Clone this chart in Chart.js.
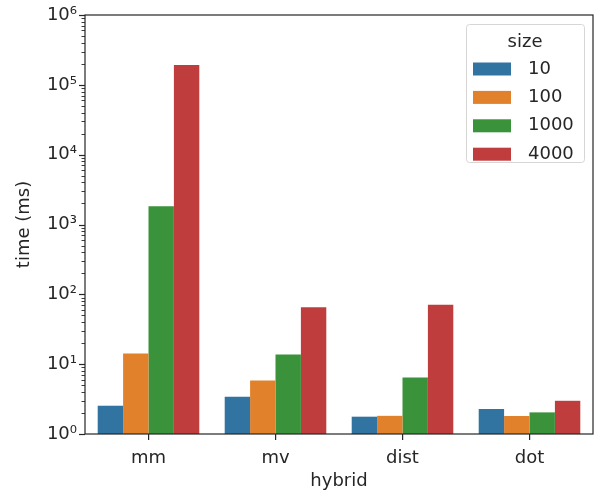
<!DOCTYPE html>
<html>
<head>
<meta charset="utf-8">
<script src="https://cdn.jsdelivr.net/npm/chart.js@4.4.1/dist/chart.umd.min.js"></script>
<style>
  html, body { margin: 0; padding: 0; background: #fff; }
  #wrap { width: 595px; height: 493px; }
</style>
</head>
<body>
<div id="wrap"><canvas id="myChart" width="595" height="493"></canvas></div>
<script>
var categories = ['mm', 'mv', 'dist', 'dot'];
var sizes = ['10', '100', '1000', '4000'];
var time10 = [2.54, 3.41, 1.77, 2.28];
var time100 = [14.2, 5.85, 1.82, 1.81];
var time1000 = [1820, 13.7, 6.45, 2.04];
var time4000 = [193000, 65.2, 71.2, 2.99];
var yTickLabels = ['10⁰', '10¹', '10²', '10³', '10⁴', '10⁵', '10⁶'];
var colors = ['#3274a1', '#e1812c', '#3a923a', '#c03d3e'];

Chart.defaults.font.family = "'DejaVu Sans', sans-serif";
Chart.defaults.font.size = 18;
Chart.defaults.color = '#262626';

function majorLabel(v) {
  var e = Math.log10(v);
  var r = Math.round(e);
  if (Math.abs(e - r) < 1e-9 && r >= 0 && r < yTickLabels.length) return yTickLabels[r];
  return '';
}

// axes box, y tick marks (major + minor) and the legend inside the plot
var framePlugin = {
  id: 'frame',
  afterDraw: function(chart) {
    var ctx = chart.ctx, a = chart.chartArea, ys = chart.scales.y;
    ctx.save();
    ctx.strokeStyle = '#262626';
    ys.ticks.forEach(function(t) {
      var y = Math.round(ys.getPixelForValue(t.value)) + 0.5;
      var major = majorLabel(t.value) !== '';
      ctx.lineWidth = major ? 1.2 : 0.9;
      ctx.beginPath();
      ctx.moveTo(a.left - (major ? 6 : 3.5), y);
      ctx.lineTo(a.left, y);
      ctx.stroke();
    });
    ctx.lineWidth = 1.2;
    ctx.strokeRect(a.left, a.top, a.right - a.left, a.bottom - a.top);

    // legend
    var w = 118, h = 138;
    var lx = a.right - 9 - w, ly = a.top + 9;
    ctx.beginPath();
    ctx.roundRect(lx + 0.5, ly + 0.5, w, h, 3);
    ctx.fillStyle = 'rgba(255,255,255,0.8)';
    ctx.fill();
    ctx.strokeStyle = '#d6d6d6';
    ctx.lineWidth = 1;
    ctx.stroke();
    ctx.font = "18px 'DejaVu Sans', sans-serif";
    ctx.fillStyle = '#262626';
    ctx.textBaseline = 'middle';
    ctx.textAlign = 'center';
    ctx.fillText('size', lx + w / 2, ly + 18);
    ctx.textAlign = 'left';
    chart.data.datasets.forEach(function(ds, i) {
      var cy = ly + 45 + i * 28.4;
      ctx.fillStyle = ds.backgroundColor;
      ctx.fillRect(lx + 7, cy - 6.5, 38, 13);
      ctx.fillStyle = '#262626';
      ctx.fillText(ds.label, lx + 62, cy);
    });
    ctx.restore();
  }
};

var ctx = document.getElementById('myChart').getContext('2d');
var myChart = new Chart(ctx, {
  type: 'bar',
  data: {
    labels: categories,
    datasets: [
      { label: sizes[0], data: time10, backgroundColor: colors[0] },
      { label: sizes[1], data: time100, backgroundColor: colors[1] },
      { label: sizes[2], data: time1000, backgroundColor: colors[2] },
      { label: sizes[3], data: time4000, backgroundColor: colors[3] }
    ]
  },
  options: {
    responsive: false,
    animation: false,
    layout: { padding: { left: 0, right: 2, top: 15, bottom: 0 } },
    datasets: {
      bar: { categoryPercentage: 0.8, barPercentage: 1.0, borderWidth: 0 }
    },
    plugins: {
      legend: { display: false },
      tooltip: { enabled: false }
    },
    scales: {
      x: {
        grid: {
          display: true,
          drawOnChartArea: false,
          offset: false,
          tickLength: 6,
          color: '#262626',
          lineWidth: 1.2
        },
        border: { display: false },
        ticks: { padding: 8 },
        title: { display: true, text: 'hybrid', padding: { top: 0, bottom: 1 } },
        afterFit: function(scale) { scale.height = 59; }
      },
      y: {
        type: 'logarithmic',
        min: 1,
        max: 1e6,
        grid: { display: false, drawTicks: false },
        border: { display: false },
        ticks: {
          autoSkip: false,
          padding: 8,
          callback: function(v) { return majorLabel(v); }
        },
        afterBuildTicks: function(scale) {
          scale.ticks = scale.ticks.filter(function(t) {
            var m = t.value / Math.pow(10, Math.floor(Math.log10(t.value) + 1e-9));
            return Math.abs(m - Math.round(m)) < 1e-6;
          });
        },
        title: { display: true, text: 'time (ms)', padding: { top: 14, bottom: 0 } },
        afterFit: function(scale) {
          scale.width = 85;
          scale.paddingTop = 0;
          scale.paddingBottom = 0;
        }
      }
    }
  },
  plugins: [framePlugin]
});
</script>
</body>
</html>
